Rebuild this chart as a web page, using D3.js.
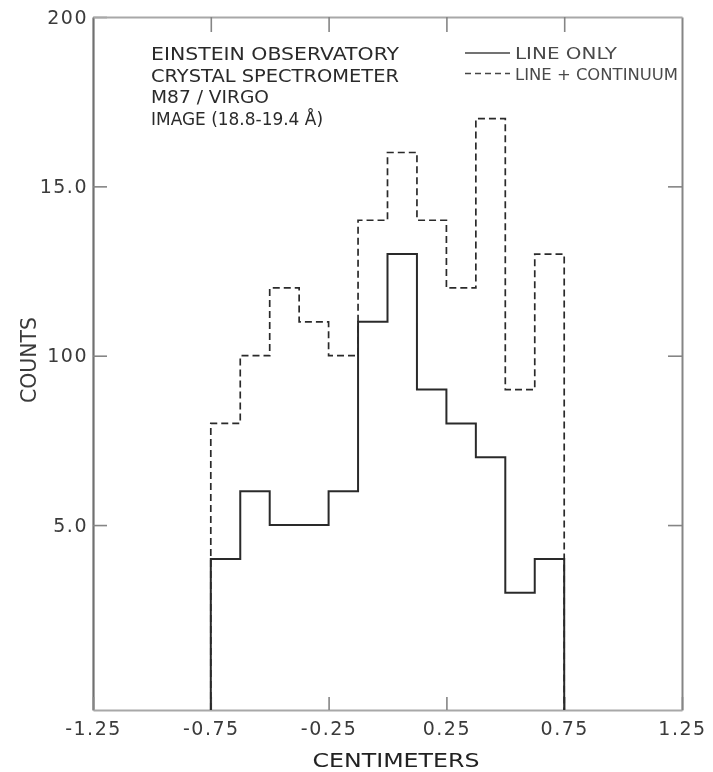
<!DOCTYPE html>
<html>
<head>
<meta charset="utf-8">
<script src="https://cdn.jsdelivr.net/npm/d3@7/dist/d3.min.js"></script>
<style>
  html, body { margin: 0; padding: 0; background: #fff; }
  svg { display: block; }
  text { font-family: "DejaVu Sans", "Liberation Sans", sans-serif; }
</style>
</head>
<body>
<div id="chart"></div>
<script>
// Bin edges of the image profile (cm) and counts per bin
const binStart = -0.75;
const binWidth = 0.125;
const lineOnly = [4, 6, 5, 5, 6, 11, 13, 9, 8, 7, 3, 4];
const lineContinuum = [8, 10, 12, 11, 10, 14, 16, 14, 12, 17, 9, 13];

// Axis ticks and their printed labels
const xTicks = [-1.25, -0.75, -0.25, 0.25, 0.75, 1.25];
const xTickLabels = ["-1.25", "-0.75", "-0.25", "0.25", "0.75", "1.25"];
const yTicks = [5, 10, 15, 20];
const yTickLabels = ["5.0", "100", "15.0", "200"];

const titleLines = [
  "EINSTEIN OBSERVATORY",
  "CRYSTAL SPECTROMETER",
  "M87 / VIRGO",
  "IMAGE (18.8-19.4 Å)"
];
const legendLabels = ["LINE ONLY", "LINE + CONTINUUM"];

const W = 713, H = 772;
const svg = d3.select("#chart").append("svg")
  .attr("width", W).attr("height", H);

const defs = svg.append("defs");
defs.append("filter").attr("id", "soft")
  .append("feGaussianBlur").attr("stdDeviation", 0.45);

const g = svg.append("g").attr("filter", "url(#soft)");

const x = d3.scaleLinear().domain([-1.25, 1.25]).range([93, 682]);
const y = d3.scaleLinear().domain([-0.46, 20]).range([710, 17]);
const base = y.domain()[0];

const frameColor = "#858585";
const inkColor = "#2b2b2b";
const textColor = "#3a3a3a";

function styleAxis(sel, width) {
  sel.selectAll("path.domain").attr("stroke", frameColor).attr("stroke-width", width);
  sel.selectAll(".tick line").attr("stroke", frameColor).attr("stroke-width", 1.6);
  sel.selectAll(".tick text")
    .attr("fill", textColor)
    .attr("font-size", 19)
    .attr("letter-spacing", 1.5);
}

// Left axis with labels
const leftAxis = g.append("g").attr("transform", `translate(${x(-1.25)},0)`)
  .call(d3.axisLeft(y).tickValues(yTicks).tickSizeInner(-14).tickSizeOuter(0)
    .tickPadding(5).tickFormat((d, i) => yTickLabels[i]));
styleAxis(leftAxis, 2.2);
leftAxis.selectAll("path.domain").attr("stroke", "#6f6f6f");

// Right frame
const rightAxis = g.append("g").attr("transform", `translate(${x(1.25)},0)`)
  .call(d3.axisRight(y).tickValues(yTicks.slice(0, 3)).tickSizeInner(-14).tickSizeOuter(0)
    .tickFormat(""));
styleAxis(rightAxis, 2);

// Bottom axis with labels
const bottomAxis = g.append("g").attr("transform", `translate(0,${y(base)})`)
  .call(d3.axisBottom(x).tickValues(xTicks).tickSizeInner(-13).tickSizeOuter(0)
    .tickPadding(12).tickFormat((d, i) => xTickLabels[i]));
styleAxis(bottomAxis, 2);
bottomAxis.selectAll("path.domain").attr("stroke", "#a8a8a8");

// Top frame
const topAxis = g.append("g").attr("transform", `translate(0,${y(20)})`)
  .call(d3.axisTop(x).tickValues(xTicks.slice(1, 5)).tickSizeInner(-15).tickSizeOuter(0)
    .tickFormat(""));
styleAxis(topAxis, 2);
topAxis.selectAll("path.domain").attr("stroke", "#a8a8a8");

// Step outline of a histogram, closed down to the baseline at both ends
function stepPoints(values) {
  const pts = [[binStart, base]];
  values.forEach((v, i) => {
    const x0 = binStart + i * binWidth;
    pts.push([x0, v], [x0 + binWidth, v]);
  });
  pts.push([binStart + values.length * binWidth, base]);
  return pts;
}
const line = d3.line().x(d => x(d[0])).y(d => y(d[1]));

g.append("path")
  .attr("d", line(stepPoints(lineContinuum)))
  .attr("fill", "none")
  .attr("stroke", inkColor)
  .attr("stroke-width", 1.7)
  .attr("stroke-dasharray", "7,4");

g.append("path")
  .attr("d", line(stepPoints(lineOnly)))
  .attr("fill", "none")
  .attr("stroke", inkColor)
  .attr("stroke-width", 2);

// Axis titles
g.append("text")
  .attr("x", 396).attr("y", 767)
  .attr("text-anchor", "middle")
  .attr("font-size", 19)
  .attr("fill", "#222")
  .attr("textLength", 167).attr("lengthAdjust", "spacingAndGlyphs")
  .text("CENTIMETERS");

g.append("text")
  .attr("transform", "translate(36,360) rotate(-90)")
  .attr("text-anchor", "middle")
  .attr("font-size", 21)
  .attr("fill", textColor)
  .attr("textLength", 86).attr("lengthAdjust", "spacingAndGlyphs")
  .text("COUNTS");

// Instrument / target annotation
const titleWidths = [248, 248, 118, 172];
g.append("g").selectAll("text")
  .data(titleLines)
  .join("text")
  .attr("x", 151)
  .attr("y", (d, i) => 60 + i * 21.6)
  .attr("font-size", 17.5)
  .attr("fill", "#2a2a2a")
  .attr("textLength", (d, i) => titleWidths[i])
  .attr("lengthAdjust", "spacingAndGlyphs")
  .text(d => d);

// Legend
const legend = g.append("g");
const legendWidths = [102, 163];
legendLabels.forEach((label, i) => {
  const ly = 53 + i * 20.5;
  legend.append("line")
    .attr("x1", 465).attr("x2", 510)
    .attr("y1", ly).attr("y2", ly)
    .attr("stroke", "#444")
    .attr("stroke-width", 1.5)
    .attr("stroke-dasharray", i === 0 ? null : "6,4");
  legend.append("text")
    .attr("x", 515).attr("y", ly + 6)
    .attr("font-size", 16.5)
    .attr("fill", "#4a4a4a")
    .attr("textLength", legendWidths[i])
    .attr("lengthAdjust", "spacingAndGlyphs")
    .text(label);
});
</script>
</body>
</html>
